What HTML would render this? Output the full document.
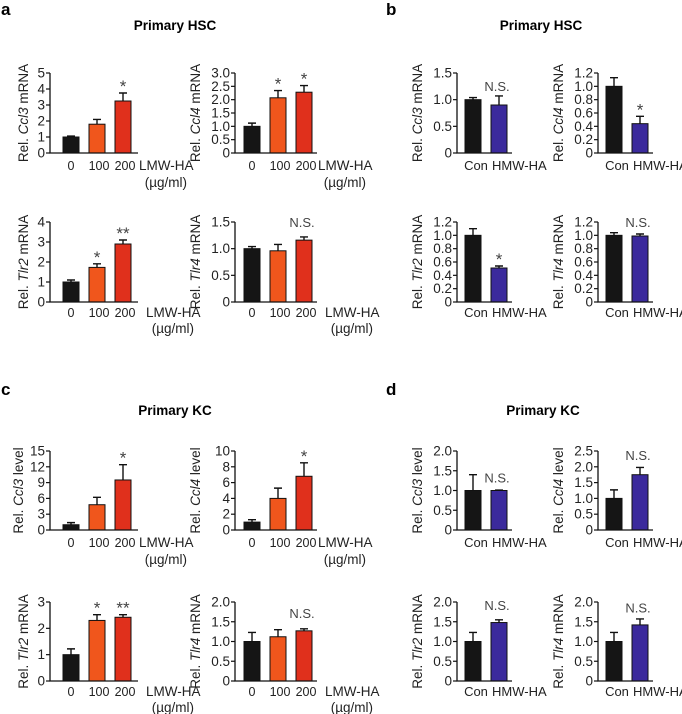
<!DOCTYPE html>
<html><head><meta charset="utf-8">
<style>
html,body{margin:0;padding:0;background:#fff;}
svg{display:block;font-family:"Liberation Sans",Arial,sans-serif;}
</style></head>
<body>
<svg id="fig" width="682" height="714" viewBox="0 0 682 714">
<text x="1" y="15" font-size="17" font-weight="bold">a</text>
<text x="386" y="15" font-size="17" font-weight="bold">b</text>
<text x="1" y="395" font-size="17" font-weight="bold">c</text>
<text x="386" y="395" font-size="17" font-weight="bold">d</text>
<text x="175" y="30" font-size="13.5" font-weight="bold" text-anchor="middle">Primary HSC</text>
<text x="541" y="30" font-size="13.5" font-weight="bold" text-anchor="middle">Primary HSC</text>
<text x="175" y="415" font-size="13.5" font-weight="bold" text-anchor="middle">Primary KC</text>
<text x="543" y="415" font-size="13.5" font-weight="bold" text-anchor="middle">Primary KC</text>
</svg>
<script>
// ---- data ----
const lmwCats = ["0","100","200"];
const hmwCats = ["Con","HMW-HA"];
const lmwColors = ["#151515","#f0561c","#e0301c"];
const hmwColors = ["#151515","#3b2a9c"];

const aCcl3Vals=[1.0,1.8,3.25];  const aCcl3Errs=[0.06,0.3,0.5];  const aCcl3Ticks=[0,1,2,3,4,5];
const aCcl4Vals=[1.0,2.07,2.28]; const aCcl4Errs=[0.12,0.27,0.25]; const aCcl4Ticks=[0,0.5,1.0,1.5,2.0,2.5,3.0];
const aTlr2Vals=[1.0,1.73,2.9];  const aTlr2Errs=[0.1,0.18,0.2];  const aTlr2Ticks=[0,1,2,3,4];
const aTlr4Vals=[1.0,0.96,1.16]; const aTlr4Errs=[0.04,0.12,0.06]; const aTlr4Ticks=[0,0.5,1.0,1.5];

const bCcl3Vals=[1.0,0.9];  const bCcl3Errs=[0.04,0.17]; const bCcl3Ticks=[0,0.5,1.0,1.5];
const bCcl4Vals=[1.0,0.44]; const bCcl4Errs=[0.13,0.11]; const bCcl4Ticks=[0,0.2,0.4,0.6,0.8,1.0,1.2];
const bTlr2Vals=[1.0,0.51]; const bTlr2Errs=[0.1,0.03];  const bTlr2Ticks=[0,0.2,0.4,0.6,0.8,1.0,1.2];
const bTlr4Vals=[1.0,0.99]; const bTlr4Errs=[0.04,0.03]; const bTlr4Ticks=[0,0.2,0.4,0.6,0.8,1.0,1.2];

const cCcl3Vals=[1.0,4.8,9.5];   const cCcl3Errs=[0.4,1.4,2.9];   const cCcl3Ticks=[0,3,6,9,12,15];
const cCcl4Vals=[1.0,4.0,6.8];   const cCcl4Errs=[0.3,1.3,1.7];   const cCcl4Ticks=[0,2,4,6,8,10];
const cTlr2Vals=[1.0,2.3,2.42];  const cTlr2Errs=[0.22,0.22,0.1]; const cTlr2Ticks=[0,1,2,3];
const cTlr4Vals=[1.0,1.12,1.27]; const cTlr4Errs=[0.23,0.18,0.05]; const cTlr4Ticks=[0,0.5,1.0,1.5,2.0];

const dCcl3Vals=[1.0,1.0];  const dCcl3Errs=[0.4,0.01];  const dCcl3Ticks=[0,0.5,1.0,1.5,2.0];
const dCcl4Vals=[1.0,1.75]; const dCcl4Errs=[0.27,0.23]; const dCcl4Ticks=[0,0.5,1.0,1.5,2.0,2.5];
const dTlr2Vals=[1.0,1.48]; const dTlr2Errs=[0.23,0.07]; const dTlr2Ticks=[0,0.5,1.0,1.5,2.0];
const dTlr4Vals=[1.0,1.42]; const dTlr4Errs=[0.23,0.15]; const dTlr4Ticks=[0,0.5,1.0,1.5,2.0];

// annotations: [barIndex, text, dataY or null (=above error bar)]
const charts = [
 {id:"a-ccl3",ax:50,top:73,zero:153,ticks:aCcl3Ticks,dec:0,vals:aCcl3Vals,errs:aCcl3Errs,lmw:true,gene:"Ccl3",suf:" mRNA",lab:22,ann:[[2,"*",null]]},
 {id:"a-ccl4",ax:235,top:73,zero:153,ticks:aCcl4Ticks,dec:1,vals:aCcl4Vals,errs:aCcl4Errs,lmw:true,gene:"Ccl4",suf:" mRNA",lab:35,ann:[[1,"*",null],[2,"*",null]]},
 {id:"a-tlr2",ax:50,top:222,zero:302,ticks:aTlr2Ticks,dec:0,vals:aTlr2Vals,errs:aTlr2Errs,lmw:true,gene:"Tlr2",suf:" mRNA",lab:22,ann:[[1,"*",null],[2,"**",null]]},
 {id:"a-tlr4",ax:235,top:222,zero:302,ticks:aTlr4Ticks,dec:1,vals:aTlr4Vals,errs:aTlr4Errs,lmw:true,gene:"Tlr4",suf:" mRNA",lab:35,ann:[[2,"N.S.",1.41]]},
 {id:"b-ccl3",ax:457,top:73,zero:153,ticks:bCcl3Ticks,dec:1,vals:bCcl3Vals,errs:bCcl3Errs,lmw:false,gene:"Ccl3",suf:" mRNA",lab:35,ann:[[1,"N.S.",1.16]]},
 {id:"b-ccl4",ax:598,top:73,zero:153,ticks:bCcl4Ticks,dec:1,vals:bCcl4Vals,errs:bCcl4Errs,lmw:false,gene:"Ccl4",suf:" mRNA",lab:35,ann:[[1,"*",null]]},
 {id:"b-tlr2",ax:457,top:222,zero:302,ticks:bTlr2Ticks,dec:1,vals:bTlr2Vals,errs:bTlr2Errs,lmw:false,gene:"Tlr2",suf:" mRNA",lab:35,ann:[[1,"*",null]]},
 {id:"b-tlr4",ax:598,top:222,zero:302,ticks:bTlr4Ticks,dec:1,vals:bTlr4Vals,errs:bTlr4Errs,lmw:false,gene:"Tlr4",suf:" mRNA",lab:35,ann:[[1,"N.S.",1.125]]},
 {id:"c-ccl3",ax:50,top:451,zero:530,ticks:cCcl3Ticks,dec:0,vals:cCcl3Vals,errs:cCcl3Errs,lmw:true,gene:"Ccl3",suf:" level",lab:27,ann:[[2,"*",null]]},
 {id:"c-ccl4",ax:235,top:451,zero:530,ticks:cCcl4Ticks,dec:0,vals:cCcl4Vals,errs:cCcl4Errs,lmw:true,gene:"Ccl4",suf:" level",lab:35,ann:[[2,"*",null]]},
 {id:"c-tlr2",ax:50,top:602,zero:681,ticks:cTlr2Ticks,dec:0,vals:cTlr2Vals,errs:cTlr2Errs,lmw:true,gene:"Tlr2",suf:" mRNA",lab:22,ann:[[1,"*",null],[2,"**",null]]},
 {id:"c-tlr4",ax:235,top:602,zero:681,ticks:cTlr4Ticks,dec:1,vals:cTlr4Vals,errs:cTlr4Errs,lmw:true,gene:"Tlr4",suf:" mRNA",lab:35,ann:[[2,"N.S.",1.6]]},
 {id:"d-ccl3",ax:457,top:451,zero:530,ticks:dCcl3Ticks,dec:1,vals:dCcl3Vals,errs:dCcl3Errs,lmw:false,gene:"Ccl3",suf:" level",lab:35,ann:[[1,"N.S.",1.2]]},
 {id:"d-ccl4",ax:598,top:451,zero:530,ticks:dCcl4Ticks,dec:1,vals:dCcl4Vals,errs:dCcl4Errs,lmw:false,gene:"Ccl4",suf:" level",lab:35,ann:[[1,"N.S.",2.22]]},
 {id:"d-tlr2",ax:457,top:602,zero:681,ticks:dTlr2Ticks,dec:1,vals:dTlr2Vals,errs:dTlr2Errs,lmw:false,gene:"Tlr2",suf:" mRNA",lab:35,ann:[[1,"N.S.",1.8]]},
 {id:"d-tlr4",ax:598,top:602,zero:681,ticks:dTlr4Ticks,dec:1,vals:dTlr4Vals,errs:dTlr4Errs,lmw:false,gene:"Tlr4",suf:" mRNA",lab:35,ann:[[1,"N.S.",1.73]]}
];

const NS="http://www.w3.org/2000/svg";
const svg=document.getElementById("fig");
function mk(tag,attrs,parent){const e=document.createElementNS(NS,tag);for(const k in attrs)e.setAttribute(k,attrs[k]);(parent||svg).appendChild(e);return e;}

charts.forEach(c=>{
  const g=mk("g",{});
  
  
  const ymax=c.ticks[c.ticks.length-1];
  const y=v=>c.zero-(c.zero-c.top)*v/ymax;
  const start=c.lmw?(c.ax===50?21:17):16;
  const step=26;
  const bx=i=>c.ax+start+i*step;
  const axEnd=c.lmw?(c.ax===50?138:317):(c.ax+55);
  const bottomRow=(c.zero===302||c.zero===681);
  const bw=16;
  c.vals.forEach((v,i)=>{
    const col=c.lmw?lmwColors[i]:hmwColors[i];
    const r=mk("rect",{x:bx(i)-bw/2,y:y(v),width:bw,height:c.zero-y(v),fill:col,stroke:"#111","stroke-width":1},g);
    
    
    const et=y(v+c.errs[i]);
    const e=mk("path",{d:`M${bx(i)} ${y(v)}V${et}M${bx(i)-4} ${et}H${bx(i)+4}`,stroke:"#111","stroke-width":1.4,fill:"none"},g);
    
    
  });
  const a=mk("path",{d:`M${c.ax} ${c.top}V${c.zero}H${axEnd}`,stroke:"#111","stroke-width":1.3,fill:"none"},g);
  
  
  c.ticks.forEach(t=>{
    mk("line",{x1:c.ax-4,x2:c.ax,y1:y(t),y2:y(t),stroke:"#111","stroke-width":1.2},g);
    const tl=mk("text",{x:c.ax-5,y:y(t)+4.5,"font-size":13.5,"text-anchor":"end",fill:"#222"},g);
    tl.textContent=t===0?"0":t.toFixed(c.dec);
    
    
  });
  const ly=(c.top+c.zero)/2, lx=c.ax-c.lab;
  const yl=mk("text",{x:lx,y:ly,"font-size":13.5,"text-anchor":"middle",fill:"#222",transform:`rotate(-90 ${lx} ${ly})`},g);
  
  
  const t1=mk("tspan",{},yl);t1.textContent="Rel. ";
  const t2=mk("tspan",{"font-style":"italic"},yl);t2.textContent=c.gene;
  const t3=mk("tspan",{},yl);t3.textContent=c.suf;
  const bl=c.zero+(bottomRow?15:17);
  if(c.lmw){
    lmwCats.forEach((s,i)=>{
      const xt=mk("text",{x:bx(i)+(i===0?0:2),y:bl,"font-size":12.5,"text-anchor":"middle",fill:"#222"},g);
      xt.textContent=s;
      
      
    });
    const lx0=axEnd+(bottomRow?8:1);
    const l1=mk("text",{x:lx0,y:bl,"font-size":13.5,fill:"#222"},g);l1.textContent="LMW-HA";
    
    
    const l2=mk("text",{x:lx0+48,y:bl+(bottomRow?16:17),"font-size":13.5,"text-anchor":"end",fill:"#222"},g);l2.textContent="(\u00b5g/ml)";
    
    
  } else {
    const x0=mk("text",{x:bx(0)+3,y:bl,"font-size":13,"text-anchor":"middle",fill:"#222"},g);x0.textContent=hmwCats[0];
    
    
    const x1=mk("text",{x:bx(1)-7,y:bl,"font-size":13,fill:"#222"},g);x1.textContent=hmwCats[1];
    
    
  }
  c.ann.forEach(([i,txt,val])=>{
    const isStar=txt[0]==="*";
    const yy=val===null?y(c.vals[i]+c.errs[i])-(isStar?1:4):y(val);
    const an=mk("text",{x:bx(i)+(isStar?0:-2),y:yy,"font-size":isStar?17:13,"text-anchor":"middle",fill:"#444"},g);
    an.textContent=txt;
    
    
  });
});
</script>
</body></html>
